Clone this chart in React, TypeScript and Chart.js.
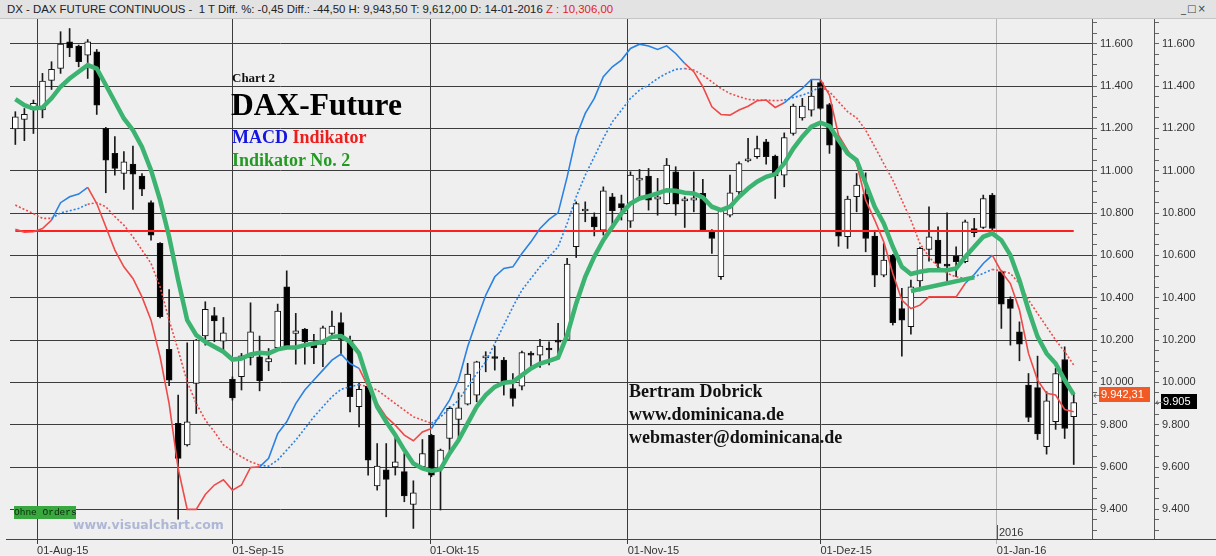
import React, { useEffect, useRef } from 'react';
import { Chart, registerables } from 'chart.js';

Chart.register(...registerables);

// ---- Data (DAX future daily candles, 29-Jul-2015 .. 14-Jan-2016) ----
const opens = [11198,11242,11290,11287,11427,11484,11609,11589,11546,11562,
 11200,11082,10987,11031,10975,10849,10657,10156,9806,9704,
 9995,10219,10316,10195,10015,10027,10118,10121,10097,10164,
 10452,10231,10252,10176,10179,10231,10282,10200,9885,9982,
 9511,9587,9601,9578,9423,9601,9750,9594,9735,9825,
 9897,9940,10116,10121,10105,9971,9982,10137,10129,10157,
 10195,10203,10641,10810,10782,10719,10877,10845,10762,10956,
 10975,10866,10845,10995,10858,10861,10893,10719,10499,10790,
 10900,11047,11066,11137,11069,10979,11176,11250,11286,11416,
 11313,11148,10688,10877,10890,10691,10507,10601,10349,10263,
 10480,10628,10672,10554,10598,10570,10727,10732,10885,10523,
 10392,10239,9987,9975,9696,9814,10108,9838];

const highs = [11279,11294,11334,11460,11515,11657,11672,11594,11620,11573,
 11205,11161,11090,11117,10987,10858,10660,10439,9940,10187,
 10203,10381,10354,10307,10026,10137,10376,10219,10160,10370,
 10527,10326,10255,10227,10266,10337,10329,10219,9995,10003,
 9711,9711,9743,9664,9535,9730,9755,9685,9885,9951,
 10090,10100,10145,10171,10118,10042,10148,10145,10203,10192,
 10279,10586,10853,10853,10801,10924,10893,10885,10995,11006,
 11011,10964,11058,11019,10877,10995,10959,10722,10822,10979,
 11042,11153,11164,11148,11074,11179,11315,11342,11431,11428,
 11318,11150,10880,10987,10990,10719,10656,10605,10444,10483,
 10639,10830,10735,10801,10641,10767,10775,10885,10893,10530,
 10404,10286,10042,10124,9956,10066,10168,9943.5];

const lows = [11124,11142,11176,11250,11384,11460,11539,11491,11436,11266,
 10896,10979,10912,10817,10882,10672,10305,9984,9354,9699,
 9853,10176,10192,10152,9916,9964,10082,9960,10055,10153,
 10168,10086,10086,10089,10074,10215,10129,9861,9790,9562,
 9491,9365,9562,9436,9310,9598,9554,9397,9664,9730,
 9893,9908,10050,10058,9940,9888,9964,10074,10071,10082,
 10137,10200,10590,10759,10692,10696,10748,10767,10732,10877,
 10814,10790,10842,10790,10732,10806,10716,10609,10486,10782,
 10877,11042,11058,11031,10869,10924,11168,11239,11258,11290,
 11082,10643,10633,10806,10617,10452,10499,10271,10124,10228,
 10432,10573,10538,10480,10499,10565,10688,10727,10704,10255,
 10176,10102,9814,9730,9661,9778,9735,9612];

const closes = [11255,11266,11318,11424,11479,11598,11580,11515,11609,11310,
 11050,11011,11042,10984,10913,10696,10310,10011,9641,9814,
 10200,10345,10291,10234,9927,10126,10239,10008,10113,10337,
 10172,10244,10192,10163,10258,10266,10203,9932,9967,9633,
 9604,9542,9625,9463,9478,9664,9562,9680,9877,9880,
 10039,10097,10121,10113,10003,9924,10141,10129,10171,10153,
 10190,10559,10845,10814,10735,10905,10811,10826,10979,10964,
 10861,10877,11027,10842,10861,10872,10719,10680,10814,10896,
 11034,11053,11105,11066,10975,11157,11305,11305,11353,11294,
 11121,10691,10866,10932,10680,10507,10578,10282,10294,10452,
 10633,10688,10562,10549,10570,10759,10707,10869,10727,10370,
 10349,10181,9834,9756,9913,10042,9782,9905];

// green "Indikator No. 2"
const greenAvg = [11338,11310,11294,11299,11342,11397,11436,11468,11499,11483,
 11405,11326,11247,11192,11113,11003,10861,10688,10483,10294,
 10223,10192,10168,10145,10108,10113,10132,10140,10137,10156,
 10165,10165,10176,10184,10192,10215,10219,10192,10137,10003,
 9885,9814,9751,9680,9617,9594,9582,9590,9664,9727,
 9806,9885,9940,9979,9998,10003,10034,10066,10089,10102,
 10117,10223,10373,10499,10594,10672,10735,10798,10845,10869,
 10880,10893,10908,10905,10896,10893,10874,10830,10814,10830,
 10877,10916,10948,10971,10984,11034,11105,11161,11208,11227,
 11211,11145,11082,11050,10940,10830,10751,10641,10546,10512,
 10523,10530,10530,10530,10538,10593,10641,10688,10704,10672,
 10601,10483,10342,10216,10137,10089,10011,9942];

// MACD indicator (solid) and its signal (dotted)
const macdLine = [10723,10710,10712,10727,10767,10849,10877,10890,10921,10845,
 10735,10625,10546,10491,10404,10294,10121,9900,9593,9400,
 9400,9470,9515,9540,9491,9515,9598,9601,9641,9758,
 9814,9900,9964,10011,10058,10105,10134,10089,10066,9979,
 9900,9837,9798,9751,9724,9766,9782,9850,9916,10011,
 10168,10294,10412,10499,10538,10546,10609,10664,10727,10770,
 10801,10971,11161,11271,11342,11444,11491,11523,11578,11598,
 11589,11573,11590,11554,11507,11468,11397,11302,11266,11263,
 11287,11305,11331,11334,11299,11321,11357,11389,11431,11431,
 11357,11168,11097,11035,10861,10767,10664,10515,10389,10349,
 10365,10404,10404,10404,10404,10467,10510,10562,10601,10523,
 10467,10342,10137,10011,9948,9940,9872,9861];

const signalLine = [10838,10817,10798,10775,10775,10801,10811,10822,10842,10849,
 10830,10783,10743,10688,10625,10562,10452,10294,10152,10003,
 9900,9822,9767,9705,9675,9648,9625,9609,9604,9633,
 9680,9727,9782,9837,9885,9932,9967,9979,9990,9979,
 9964,9932,9900,9869,9837,9822,9806,9837,9877,9916,
 9979,10042,10097,10184,10271,10357,10436,10491,10546,10593,
 10641,10751,10877,10979,11066,11153,11231,11286,11342,11381,
 11405,11436,11460,11479,11483,11476,11452,11420,11389,11365,
 11350,11337,11334,11334,11331,11334,11346,11357,11373,11397,
 11373,11326,11279,11250,11192,11113,11034,10956,10861,10767,
 10656,10593,10546,10515,10499,10491,10499,10515,10534,10527,
 10515,10467,10389,10326,10263,10200,10145,10082];

const trendIdx = [99, 106];
const trendVals = [10432, 10496];
const levelValue = 10715;

const monthPositions = [2.4, 24, 45.85, 67.7, 89, 108.5];
const monthLabels = ['01-Aug-15', '01-Sep-15', '01-Okt-15', '01-Nov-15', '01-Dez-15', '01-Jan-16'];
const yTickValues = [9400, 9600, 9800, 10000, 10200, 10400, 10600, 10800, 11000, 11200, 11400, 11600];
const lastAvg = 9942.31;
const lastClose = 9905;

// ---- styling ----
const RED = '#ef4a4a';
const BLUE = '#2b82e3';
const GREEN = '#3cb371';
const GRID = '#3c3c3c';
const BG = '#efefef';

const fmtInt = (v: number) => v.toLocaleString('de-DE', { maximumFractionDigits: 0 });
const fmt2 = (v: number) => v.toLocaleString('de-DE', { minimumFractionDigits: 2, maximumFractionDigits: 2 });

const segColor = (ctx: any) =>
  macdLine[ctx.p1DataIndex] > signalLine[ctx.p1DataIndex] ? BLUE : RED;

const Y_MIN = 9260;
const Y_MAX = 11717;

const extrasPlugin = {
  id: 'extras',
  afterDraw(chart: any) {
    const { ctx, chartArea, scales } = chart;
    const yS = scales.y;
    const y2S = scales.y2;
    const xS = scales.x;
    ctx.save();
    // bottom axis line across the full width
    ctx.strokeStyle = '#444';
    ctx.lineWidth = 1;
    ctx.beginPath();
    ctx.moveTo(6, Math.round(chartArea.bottom) + 0.5);
    ctx.lineTo(chart.width, Math.round(chartArea.bottom) + 0.5);
    ctx.stroke();
    // year marker
    const xj = Math.round(xS.getPixelForValue(monthPositions[5])) + 0.5;
    ctx.strokeStyle = '#555';
    ctx.beginPath();
    ctx.moveTo(xj, chartArea.bottom - 14);
    ctx.lineTo(xj, chartArea.bottom);
    ctx.stroke();
    ctx.fillStyle = '#333';
    ctx.font = '11px "Liberation Sans"';
    ctx.textBaseline = 'alphabetic';
    ctx.textAlign = 'left';
    ctx.fillText('2016', xj + 1.5, chartArea.bottom - 3);

    // value boxes on the axes
    const ya = yS.getPixelForValue(lastAvg);
    ctx.fillStyle = '#f15a24';
    ctx.fillRect(yS.left + 7, Math.round(ya) - 8, 51, 15);
    ctx.fillStyle = '#ffffff';
    ctx.textBaseline = 'middle';
    ctx.fillText(fmt2(lastAvg), yS.left + 9, Math.round(ya));
    ctx.fillStyle = '#666';
    ctx.font = '10px "DejaVu Sans"';
    ctx.fillText('\u2190', yS.left + 1, Math.round(ya) + 1);

    const yc = y2S.getPixelForValue(lastClose);
    ctx.fillStyle = '#000';
    ctx.fillRect(y2S.left + 7, Math.round(yc) - 8, 36, 15);
    ctx.fillStyle = '#fff';
    ctx.font = '11px "Liberation Sans"';
    ctx.fillText(fmtInt(lastClose), y2S.left + 9, Math.round(yc));
    ctx.fillStyle = '#666';
    ctx.font = '10px "DejaVu Sans"';
    ctx.fillText('\u2190', y2S.left + 1, Math.round(yc) + 1);
    ctx.restore();
  },
};

const minorTicks: number[] = [];
for (let v = Math.ceil(Y_MIN / 50) * 50; v <= Y_MAX; v += 50) minorTicks.push(v);

const makeYAxis = (onArea: boolean) => ({
  type: 'linear',
  position: 'right',
  min: Y_MIN,
  max: Y_MAX,
  afterBuildTicks: (s: any) => {
    s.ticks = minorTicks.map((v) => ({ value: v }));
  },
  afterFit: (s: any) => {
    s.width = 62;
  },
  ticks: {
    autoSkip: false,
    padding: 3,
    color: '#333',
    font: { family: 'Liberation Sans', size: 11 },
    callback: (v: number) => (yTickValues.includes(v) ? fmtInt(v) : ''),
  },
  grid: {
    drawOnChartArea: onArea,
    color: (c: any) => (c.tick && yTickValues.includes(c.tick.value) ? GRID : 'rgba(0,0,0,0)'),
    tickColor: '#666',
    tickLength: 5,
  },
  border: { color: '#555' },
});

function App() {
  const canvasRef = useRef<HTMLCanvasElement | null>(null);

  useEffect(() => {
    document.body.style.margin = '0';
    const canvas = canvasRef.current;
    if (!canvas) return;
    const n = opens.length;
    const chart = new Chart(canvas, {
      type: 'bar',
      data: {
        datasets: [
          {
            type: 'line',
            label: 'Indikator No. 2',
            data: greenAvg.map((y, x) => ({ x, y })),
            borderColor: GREEN,
            borderWidth: 4.5,
            pointRadius: 0,
            tension: 0,
            order: 0,
          },
          {
            type: 'line',
            label: 'Trend',
            data: trendIdx.map((x, i) => ({ x, y: trendVals[i] })),
            borderColor: GREEN,
            borderWidth: 4.5,
            pointRadius: 0,
            order: 0,
          },
          {
            type: 'line',
            label: 'MACD',
            data: macdLine.map((y, x) => ({ x, y })),
            borderColor: RED,
            borderWidth: 1.6,
            pointRadius: 0,
            segment: { borderColor: segColor },
            order: 1,
          },
          {
            type: 'line',
            label: 'Signal',
            data: signalLine.map((y, x) => ({ x, y })),
            borderColor: RED,
            borderWidth: 1.6,
            borderDash: [2, 2],
            pointRadius: 0,
            segment: { borderColor: segColor },
            order: 1,
          },
          {
            type: 'line',
            label: 'Level',
            data: [
              { x: 0, y: levelValue },
              { x: n - 1, y: levelValue },
            ],
            borderColor: '#ff1f1f',
            borderWidth: 2,
            pointRadius: 0,
            order: 2,
          },
          {
            type: 'bar',
            label: 'Body',
            data: opens.map((o, i) => ({ x: i, y: [o, closes[i]] })),
            backgroundColor: opens.map((o, i) => (closes[i] >= o ? '#ffffff' : '#000000')),
            borderColor: '#111',
            borderWidth: 1,
            borderSkipped: false,
            minBarLength: 2,
            maxBarThickness: 6,
            barPercentage: 1,
            categoryPercentage: 1,
            grouped: false,
            order: 3,
          },
          {
            type: 'bar',
            label: 'Wick',
            data: highs.map((h, i) => ({ x: i, y: [lows[i], h] })),
            backgroundColor: '#1a1a1a',
            borderWidth: 0,
            maxBarThickness: 1,
            barPercentage: 1,
            categoryPercentage: 1,
            grouped: false,
            order: 4,
          },
        ],
      } as any,
      options: {
        responsive: false,
        maintainAspectRatio: false,
        animation: false,
        devicePixelRatio: 1,
        events: [],
        layout: { padding: { left: 10, top: 19, right: 0, bottom: 0 } },
        plugins: { legend: { display: false }, tooltip: { enabled: false } },
        scales: {
          x: {
            type: 'linear',
            min: -0.59,
            max: 119.02,
            offset: false,
            afterBuildTicks: (s: any) => {
              s.ticks = monthPositions.map((v) => ({ value: v }));
            },
            afterFit: (s: any) => {
              s.height = 17;
            },
            ticks: {
              autoSkip: false,
              maxRotation: 0,
              minRotation: 0,
              align: 'start',
              padding: 0,
              color: '#333',
              font: { family: 'Liberation Sans', size: 11 },
              callback: (_v: any, i: number) => monthLabels[i],
            },
            grid: {
              offset: false,
              color: (c: any) => (c.index === 5 ? '#b4b4b4' : GRID),
              tickColor: (c: any) => (c.index === 5 ? '#b4b4b4' : GRID),
              tickLength: 5,
            },
            border: { color: '#444' },
          },
          y: makeYAxis(true),
          y2: makeYAxis(false),
        } as any,
      },
      plugins: [extrasPlugin],
    });
    return () => chart.destroy();
  }, []);

  const abs = (style: React.CSSProperties): React.CSSProperties => ({
    position: 'absolute',
    whiteSpace: 'nowrap',
    margin: 0,
    ...style,
  });

  const serif = '"Liberation Serif", "Times New Roman", serif';

  return (
    <div style={{ position: 'relative', width: 1216, height: 556, background: BG, overflow: 'hidden' }}>
      <canvas ref={canvasRef} width={1216} height={556} style={{ position: 'absolute', left: 0, top: 0, width: 1216, height: 556 }} />
      <div
        style={abs({
          left: 0,
          top: 0,
          width: 1216,
          height: 18,
          background: '#e3e3e3',
          borderBottom: '1px solid #c6c6c6',
          fontFamily: '"Liberation Sans", sans-serif',
          fontSize: 11.4,
          lineHeight: '18px',
          color: '#222',
        })}
      >
        <span style={{ marginLeft: 7 }}>
          DX - DAX FUTURE CONTINUOUS -&nbsp; 1 T Diff. %: -0,45 Diff.: -44,50 H: 9,943,50 T: 9,612,00 D: 14-01-2016{' '}
          <span style={{ color: '#e31b1b' }}>Z : 10,306,00</span>
        </span>
        <span style={{ position: 'absolute', left: 1181, top: 0, fontFamily: '"DejaVu Sans", sans-serif', fontSize: 10, color: '#444', letterSpacing: 1 }}>
          _□×
        </span>
      </div>

      <div style={abs({ left: 232, top: 70.5, fontFamily: serif, fontWeight: 'bold', fontSize: 13, lineHeight: '13px', color: '#111' })}>Chart 2</div>
      <div style={abs({ left: 231, top: 89, fontFamily: serif, fontWeight: 'bold', fontSize: 31.5, lineHeight: '31px', color: '#000' })}>DAX-Future</div>
      <div style={abs({ left: 232, top: 127.5, fontFamily: serif, fontWeight: 'bold', fontSize: 18, lineHeight: '18px' })}>
        <span style={{ color: '#1515e0' }}>MACD</span> <span style={{ color: '#ee1d1d' }}>Indikator</span>
      </div>
      <div style={abs({ left: 232, top: 151, fontFamily: serif, fontWeight: 'bold', fontSize: 18, lineHeight: '18px', color: '#249a24' })}>Indikator No. 2</div>

      <div style={abs({ left: 629, top: 382, fontFamily: serif, fontWeight: 'bold', fontSize: 18, lineHeight: '18px', color: '#111' })}>Bertram Dobrick</div>
      <div style={abs({ left: 629, top: 405, fontFamily: serif, fontWeight: 'bold', fontSize: 18, lineHeight: '18px', color: '#111' })}>www.dominicana.de</div>
      <div style={abs({ left: 629, top: 427.5, fontFamily: serif, fontWeight: 'bold', fontSize: 18, lineHeight: '18px', color: '#111' })}>webmaster@dominicana.de</div>

      <div
        style={abs({
          left: 14,
          top: 506,
          width: 62,
          height: 13,
          background: '#38a83f',
          fontFamily: '"Liberation Mono", monospace',
          fontSize: 9.5,
          lineHeight: '13px',
          color: '#0b2a0b',
          textAlign: 'center',
        })}
      >
        Ohne Orders
      </div>
      <div
        style={abs({
          left: 73,
          top: 519,
          fontFamily: '"DejaVu Sans", sans-serif',
          fontWeight: 'bold',
          fontSize: 12.5,
          lineHeight: '12.5px',
          color: '#aeb7d6',
        })}
      >
        www.visualchart.com
      </div>
    </div>
  );
}

export default App;
